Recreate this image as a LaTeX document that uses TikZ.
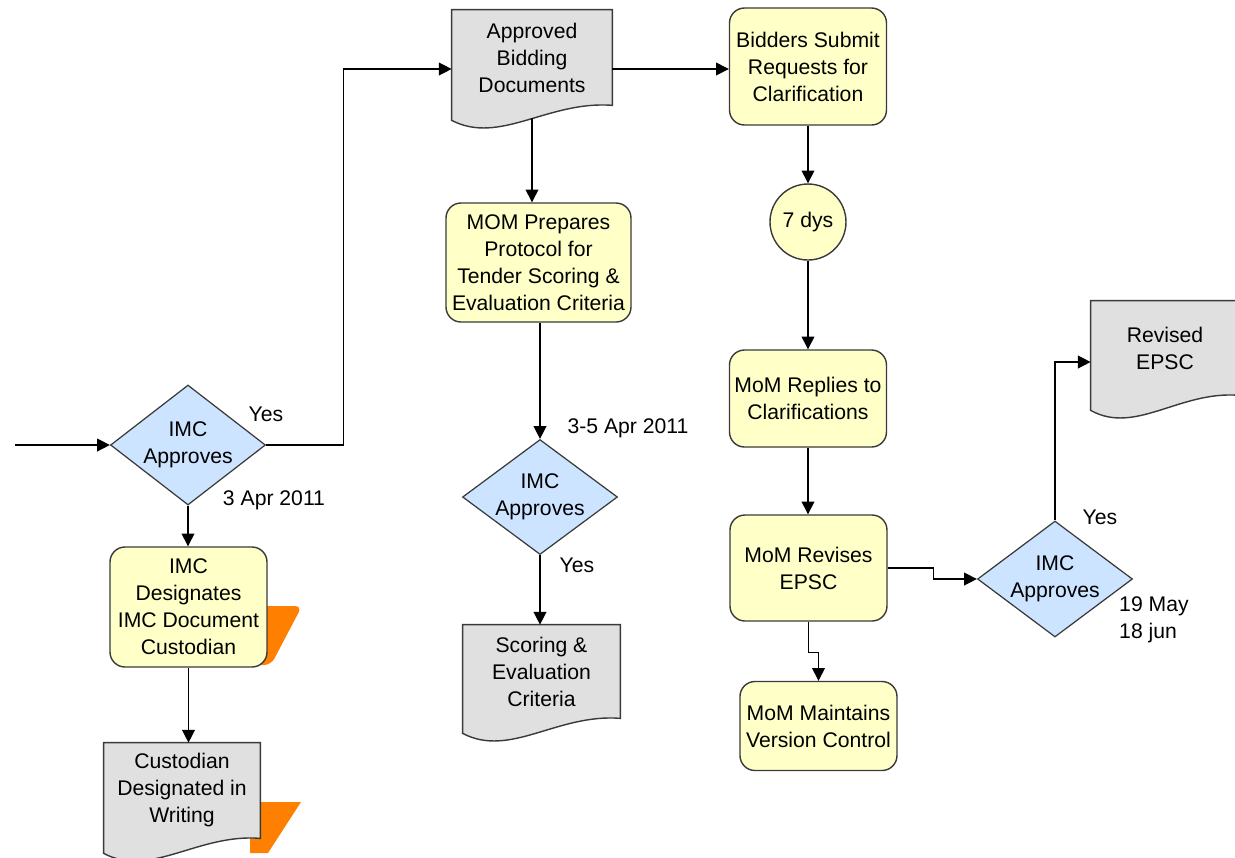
\documentclass[tikz,border=0pt]{standalone}
\usepackage{fontspec}
\setmainfont{Liberation Sans}
\usetikzlibrary{shapes.geometric,arrows.meta,calc,backgrounds}

\definecolor{boxyellow}{HTML}{FFFFC8}
\definecolor{decblue}{HTML}{CCE4FF}
\definecolor{docgray}{HTML}{E0E0E0}
\definecolor{shadoworange}{HTML}{FF8000}
\definecolor{edgegray}{HTML}{3A3A3A}

% one drawing unit
\def\u{0.5668pt}

\tikzset{
  every node/.style={font=\fontsize{12}{15.3}\selectfont, align=center, text=black},
  procbox/.style={draw=edgegray, fill=boxyellow, rounded corners=8.5pt, line width=0.8pt,
                  inner sep=0pt, minimum width=157*\u},
  decision/.style={diamond, aspect=1.32, draw=edgegray, fill=decblue, line width=0.7pt,
                   inner sep=0pt, minimum width=155*\u, minimum height=118*\u},
  docbox/.style={inner sep=0pt, minimum width=157*\u},
  docfill/.style={draw=edgegray, fill=docgray, line width=0.8pt},
  waitcircle/.style={circle, draw=edgegray, fill=boxyellow, line width=0.8pt,
                     minimum size=76*\u, inner sep=0pt},
  flow/.style={draw=black, line width=0.8pt, -{Triangle[length=7.2pt,width=7.2pt]}},
}

% document symbol: straight top and sides, wavy bottom edge
\newcommand\docoutline[1]{%
  \path[docfill] (#1.south east) -- (#1.north east) -- (#1.north west)
    -- ($(#1.south west)+(0,15)$)
    .. controls ($(#1.south west)!0.3!(#1.south east)+(0,40)$)
            and ($(#1.south west)!0.6!(#1.south east)+(0,-5)$) .. (#1.south east) -- cycle;}

\begin{document}
\begin{tikzpicture}[x=\u,y=-\u]
\useasboundingbox (0,0) rectangle (1235,857);

% ---- process, decision and document nodes
\node[decision, minimum height=120*\u] (d1) at (188,445) {IMC\\Approves};
\node[docbox, minimum width=160*\u, minimum height=95*\u] (approved) at (532,57.5)
  {Approved\\Bidding\\Documents};
\node[procbox, minimum height=117*\u] (bidders) at (808,66.5)
  {Bidders Submit\\Requests for\\Clarification};
\node[waitcircle] (wait) at (808,222) {7 dys};
\node[procbox, minimum height=97*\u] (replies) at (808,398.5)
  {MoM Replies to\\Clarifications};
\node[procbox, minimum height=106*\u] (revises) at (808.5,568) {MoM Revises\\EPSC};
\node[procbox, minimum height=89*\u] (maintains) at (818.5,726)
  {MoM Maintains\\Version Control};
\node[decision, minimum height=116*\u] (d3) at (1055,579) {IMC\\Approves};
\node[docbox, minimum width=148*\u, minimum height=94*\u] (revised) at (1165,348)
  {Revised\\EPSC};
\node[procbox, minimum width=185*\u, minimum height=119*\u] (prep) at (538.5,262.5)
  {MOM Prepares\\Protocol for\\Tender Scoring \&\\Evaluation Criteria};
\node[decision, minimum height=115*\u] (d2) at (540,497) {IMC\\Approves};
\node[docbox, minimum height=93*\u] (scoring) at (541.5,671.5)
  {Scoring \&\\Evaluation\\Criteria};
\node[procbox, minimum height=120*\u] (custod) at (188.5,607)
  {IMC\\Designates\\IMC Document\\Custodian};
\node[docbox, minimum width=156*\u, minimum height=95*\u] (written) at (182,790.5)
  {Custodian\\Designated in\\Writing};

% ---- free labels
\node (yes1) at (266,414) {Yes};
\node (date1) at (274,500) {3 Apr 2011};
\node (date2) at (628,428) {3-5 Apr 2011};
\node (yes2) at (577,565) {Yes};
\node (yes3) at (1100,517) {Yes};
\node[anchor=west, align=left] (date3) at (1113,620) {19 May\\18 jun};

% ---- backdrops: orange flags and document outlines
\begin{scope}[on background layer]
  \fill[shadoworange, rounded corners=4pt] (250,606) -- (302,606) -- (271,665) -- (250,665) -- cycle;
  \fill[shadoworange] (250,802) -- (301,802) -- (268,853) -- (250,853) -- cycle;
  \docoutline{approved}
  \docoutline{revised}
  \docoutline{scoring}
  \docoutline{written}
\end{scope}

% ---- connectors
\coordinate (entry) at (15,445);
\coordinate (apin) at ($(approved.west)+(0,11.5)$);
\coordinate (apout) at ($(approved.east)+(0,11.5)$);
\coordinate (apbot) at ($(approved.south)+(0,13)$);
\coordinate (revin) at ($(revised.west)+(0,14)$);

\draw[flow] (entry) -- (d1.west);
\draw[flow] (d1.east) -- ++(77.5,0) |- (apin);
\draw[flow] (apout) -- (apout -| bidders.west);
\draw[flow] (apbot) -- (apbot |- prep.north);
\draw[flow] (d2.north |- prep.south) -- (d2.north);
\draw[flow] (d2.south) -- (d2.south |- scoring.north);
\draw[flow] (bidders.south) -- (wait.north);
\draw[flow] (wait.south) -- (replies.north);
\draw[flow] (replies.south) -- (replies.south |- revises.north);
\draw[flow] (revises.south) -- ++(0,31) -| (maintains.north);
\draw[flow] (revises.east) -- ++(46,0) |- (d3.west);
\draw[flow] (d3.north) |- (revin);
\draw[flow] (d1.south) -- (d1.south |- custod.north);
\draw[flow] (custod.south) -- (custod.south |- written.north);
\end{tikzpicture}
\end{document}
